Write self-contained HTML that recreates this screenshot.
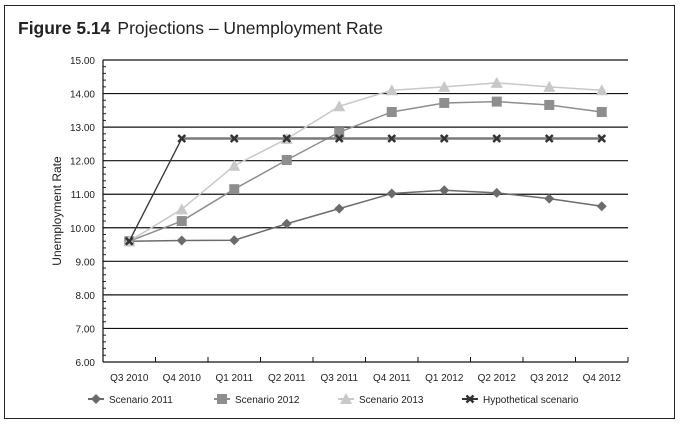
<!DOCTYPE html>
<html><head><meta charset="utf-8"><style>
body{margin:0;background:#fff;}
svg text{font-family:"Liberation Sans",sans-serif;}
</style></head><body>
<svg width="680" height="425" xmlns="http://www.w3.org/2000/svg">
<rect x="4.5" y="5.5" width="670" height="413" fill="#fff" stroke="#222" stroke-width="1"/>
<text x="18" y="34" font-size="17.5" fill="#222"><tspan font-weight="bold">Figure 5.14</tspan><tspan dx="7">Projections – Unemployment Rate</tspan></text>
<text transform="translate(61,211) rotate(-90)" text-anchor="middle" font-size="12" fill="#222">Unemployment Rate</text>
<g id="grid"></g><g id="axes"></g><g id="series"></g><g id="legend"></g>
</svg>
<script>
const categories=["Q3 2010","Q4 2010","Q1 2011","Q2 2011","Q3 2011","Q4 2011","Q1 2012","Q2 2012","Q3 2012","Q4 2012"];
const s2011=[9.6,9.62,9.63,10.12,10.57,11.02,11.12,11.04,10.87,10.64];
const s2012=[9.6,10.2,11.15,12.02,12.85,13.45,13.72,13.76,13.66,13.45];
const s2013=[9.6,10.55,11.85,12.65,13.62,14.1,14.2,14.32,14.2,14.1];
const sHyp=[9.6,12.66,12.66,12.66,12.66,12.66,12.66,12.66,12.66,12.66];
const yTicks=[6,7,8,9,10,11,12,13,14,15];
const seriesNames=["Scenario 2011","Scenario 2012","Scenario 2013","Hypothetical scenario"];

const NS="http://www.w3.org/2000/svg";
const L=103,R=628,T=60,B=362,yMin=6,yMax=15;
const bw=(R-L)/categories.length;
const xS=i=>L+bw*(i+0.5);
const yS=v=>B-(v-yMin)/(yMax-yMin)*(B-T);
function mk(tag,attrs,parent){const e=document.createElementNS(NS,tag);for(const k in attrs)e.setAttribute(k,attrs[k]);parent.appendChild(e);return e;}
const grid=document.getElementById('grid'),axes=document.getElementById('axes'),ser=document.getElementById('series'),leg=document.getElementById('legend');

yTicks.forEach(v=>{
  const y=yS(v);
  if(v>yMin){const g=mk('line',{x1:L,x2:R,y1:y,y2:y,stroke:'#111','stroke-width':1.2},grid);
  
  }
  const t=mk('text',{x:L-8,y:y+4,'text-anchor':'end','font-size':10,fill:'#222'},axes);
  t.textContent=v.toFixed(2);
  
  
});
for(let i=0;i<(yTicks.length-1)*5;i++){const y=yS(yMin+i*0.2);mk('line',{x1:L,x2:L+3,y1:y,y2:y,stroke:'#222','stroke-width':1},axes);}
const ya=mk('line',{x1:L,x2:L,y1:T,y2:B,stroke:'#111','stroke-width':1.2},axes);

const xa=mk('line',{x1:L,x2:R,y1:B,y2:B,stroke:'#111','stroke-width':1.2},axes);

categories.forEach((c,i)=>{
  const x=L+bw*(i+1);mk('line',{x1:x,x2:x,y1:B,y2:B-5,stroke:'#111'},axes);
  const t=mk('text',{x:xS(i),y:381,'text-anchor':'middle','font-size':10,fill:'#222'},axes);
  t.textContent=c;
  
  
});
function marker(type,x,y,color,parent){
  if(type==='d')return mk('polygon',{points:`${x},${y-5} ${x+5},${y} ${x},${y+5} ${x-5},${y}`,fill:color},parent);
  if(type==='s')return mk('rect',{x:x-5,y:y-5,width:10,height:10,fill:color},parent);
  if(type==='t')return mk('polygon',{points:`${x},${y-6} ${x+6},${y+5} ${x-6},${y+5}`,fill:color},parent);
  const g=mk('g',{},parent);
  mk('path',{d:`M${x-3.5},${y-3.5}L${x+3.5},${y+3.5}M${x+3.5},${y-3.5}L${x-3.5},${y+3.5}`,stroke:color,'stroke-width':2.5},g);
  return g;
}
const defs=[[s2011,'#6b6b6b','d',1.5],[s2012,'#8e8e8e','s',1.5],[s2013,'#c8c8c8','t',1.5],[sHyp,'#333','x',1.5]];
defs.forEach((d,k)=>{
  const g=mk('g',{},ser);
  
  
  if(k===3){
    mk('line',{x1:xS(0),y1:yS(d[0][0]),x2:xS(1),y2:yS(d[0][1]),stroke:'#333','stroke-width':1.3},g);
    mk('polyline',{points:d[0].slice(1).map((v,i)=>xS(i+1)+','+yS(v)).join(' '),fill:'none',stroke:'#7a7a7a','stroke-width':2.5},g);
  } else {
    mk('polyline',{points:d[0].map((v,i)=>xS(i)+','+yS(v)).join(' '),fill:'none',stroke:d[1],'stroke-width':d[3]},g);
  }
  d[0].forEach((v,i)=>{const m=marker(d[2],xS(i),yS(v),d[1],g);
    
    });
  const lx=[88,214,338,462][k],ly=399;
  const lg=mk('g',{},leg);
  
  
  mk('line',{x1:lx,x2:lx+16,y1:ly,y2:ly,stroke:d[1],'stroke-width':2},lg);
  marker(d[2],lx+8,ly,d[1],lg);
  const t=mk('text',{x:lx+21,y:ly+4,'font-size':10,fill:'#222'},lg);
  t.textContent=seriesNames[k];
});
</script>
</body></html>
